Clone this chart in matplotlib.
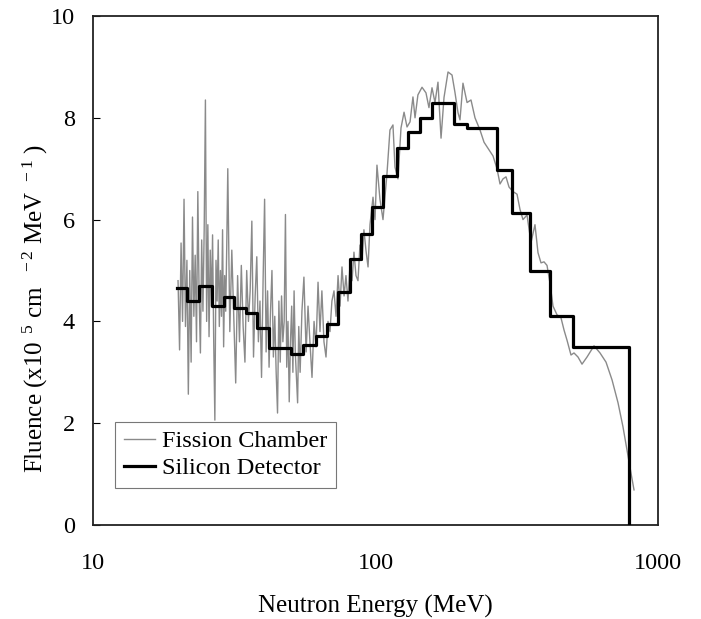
import matplotlib
matplotlib.use('Agg')
import matplotlib.pyplot as plt
import matplotlib.ticker as mticker

# ── Data ─────────────────────────────────────────────────────────
# Silicon detector: bin edges (MeV) and fluence per bin (x1e5 cm^-2 MeV^-1)
si_edges = [19.8, 21.5, 23.7, 26.4, 29.1, 31.6, 34.8, 38.1, 42.0, 50.2,
            55.4, 61.6, 67.3, 73.7, 81.2, 88.9, 97.2, 106.3, 119.2, 130.3,
            143.7, 158.5, 189.6, 210.9, 269.2, 304.2, 352.4, 414.7, 500.2, 789.5]
si_values = [4.66, 4.40, 4.70, 4.30, 4.48, 4.26, 4.16, 3.87, 3.48, 3.36,
             3.54, 3.71, 3.95, 4.58, 5.23, 5.72, 6.25, 6.86, 7.41, 7.72,
             8.00, 8.29, 7.88, 7.80, 6.97, 6.13, 4.99, 4.11, 3.50]

# Fission chamber: energy (MeV) and fluence
fc_energy = [
    20.00, 20.25, 20.50, 20.75, 21.00, 21.25, 21.50, 21.75, 22.00, 22.25,
    22.50, 22.75, 23.00, 23.25, 23.50, 23.75, 24.00, 24.25, 24.50, 24.75,
    25.00, 25.25, 25.50, 25.75, 26.00, 26.25, 26.50, 26.75, 27.00, 27.25,
    27.50, 27.75, 28.00, 28.25, 28.50, 28.75, 29.00, 29.25, 29.50, 29.75,
    30.00, 30.5, 31.0, 31.5, 32.0, 32.5, 33.0, 33.5, 34.0, 34.5,
    35.0, 35.5, 36.0, 36.5, 37.0, 37.5, 38.0, 38.5, 39.0, 39.5,
    40.0, 40.5, 41.0, 41.5, 42.0, 42.5, 43.0, 43.5, 44.0, 44.5,
    45.0, 45.5, 46.0, 46.5, 47.0, 47.5, 48.0, 48.5, 49.0, 49.5,
    50.0, 50.5, 51.0, 51.5, 52.0, 52.5, 53.0, 53.5, 54.1, 54.9,
    55.8, 56.8, 57.7, 58.6, 59.6, 60.6, 61.6, 62.6, 63.6, 64.6,
    65.7, 66.8, 67.9, 69.0, 70.1, 71.3, 72.5, 73.7, 74.9, 76.1,
    77.4, 78.6, 79.9, 81.2, 82.6, 83.9, 85.3, 86.7, 88.1, 89.6,
    91.0, 92.5, 94.1, 95.6, 98.0, 99.6, 101.2, 103.7, 106.3, 109.8,
    112.5, 115.3, 117.2, 120.1, 123.1, 126.2, 129.3, 132.5, 135.7, 138.0,
    141.3, 146.1, 150.9, 154.6, 158.5, 162.4, 166.4, 170.6, 174.8, 180.6,
    186.6, 191.1, 195.9, 199.1, 204.0, 210.9, 217.8, 225.0, 234.4, 242.2,
    250.2, 260.6, 269.2, 275.9, 282.7, 289.7, 296.9, 306.7, 316.9, 324.7,
    332.7, 343.8, 355.2, 366.9, 376.0, 385.3, 394.9, 404.7, 414.7, 424.9,
    439.0, 453.6, 464.9, 476.4, 492.0, 504.2, 521.0, 538.3, 560.7, 593.6,
    623.4, 654.6, 687.6, 722.0, 751.6, 776.6, 802.4, 822.4]
fc_values = [
    4.8, 3.44, 5.54, 4.0, 6.4, 3.9, 5.2, 2.57, 5.0, 3.2,
    6.05, 4.1, 5.3, 3.6, 6.55, 4.5, 3.38, 5.6, 4.2, 5.8,
    8.35, 4.0, 5.9, 3.7, 5.4, 4.3, 5.7, 3.6, 2.06, 5.2,
    4.4, 5.6, 3.9, 5.0, 4.1, 5.8, 3.5, 4.9, 4.2, 5.5,
    7.0, 3.8, 5.4, 4.1, 2.79, 4.9, 3.6, 5.1, 3.9, 3.2,
    5.0, 4.0, 4.6, 5.97, 3.3, 4.5, 5.27, 3.6, 4.4, 2.9,
    4.8, 6.4, 3.4, 4.6, 3.1, 4.2, 5.0, 3.3, 4.1, 3.0,
    2.2, 4.4, 3.2, 4.5, 3.6, 4.0, 6.1, 3.1, 4.0, 2.42,
    3.6, 4.3, 3.0, 4.6, 3.4, 2.9, 2.4, 3.9, 3.0, 4.2,
    4.87, 3.4, 4.3, 3.6, 2.9, 4.0, 3.5, 4.77, 3.8, 4.6,
    3.6, 3.3, 4.0, 3.8, 4.4, 4.6, 4.1, 4.9, 4.3, 5.07,
    4.5, 4.9, 4.4, 5.1, 4.8, 5.36, 4.9, 4.8, 5.5, 5.2,
    5.8, 5.4, 5.07, 5.9, 6.44, 6.0, 7.07, 6.4, 6.0, 6.9,
    7.76, 7.86, 7.03, 6.8, 7.8, 8.11, 7.82, 7.92, 8.41, 8.0,
    8.45, 8.6, 8.49, 8.2, 8.59, 8.3, 8.70, 7.6, 8.4, 8.9,
    8.84, 8.5, 8.1, 7.96, 8.68, 8.3, 8.35, 8.0, 7.76, 7.52,
    7.4, 7.25, 7.0, 6.7, 6.8, 6.84, 6.64, 6.55, 6.5, 6.2,
    6.0, 6.09, 5.55, 5.9, 5.35, 5.15, 5.17, 5.1, 4.75, 4.3,
    4.13, 4.07, 3.83, 3.63, 3.34, 3.38, 3.3, 3.16, 3.3, 3.52,
    3.38, 3.2, 2.85, 2.4, 1.93, 1.47, 1.02, 0.69]

# ── Style ────────────────────────────────────────────────────────
plt.rcParams['font.family'] = ['Liberation Serif', 'DejaVu Serif']
plt.rcParams['mathtext.fontset'] = 'custom'
plt.rcParams['mathtext.rm'] = 'Liberation Serif'
plt.rcParams['mathtext.it'] = 'Liberation Serif:italic'

fig = plt.figure(figsize=(7.01, 6.19), dpi=100)
ax = fig.add_axes([93/701, 1 - 525/619, 565/701, 509/619])

ax.plot(fc_energy, fc_values, color='#8a8a8a', linewidth=1.0,
        label='Fission Chamber', zorder=2)

# steps-post, closed with a drop to zero at the last edge
sx = si_edges + [si_edges[-1]]
sy = si_values + [si_values[-1], 0.0]
ax.plot(sx, sy, drawstyle='steps-post', color='black', linewidth=2.3,
        label='Silicon Detector', zorder=3)

ax.set_xscale('log')
ax.set_xlim(10, 1000)
ax.set_ylim(0, 10)
ax.xaxis.set_major_locator(mticker.FixedLocator([10, 100, 1000]))
ax.xaxis.set_major_formatter(mticker.FixedFormatter(['10', '100', '1000']))
ax.xaxis.set_minor_locator(mticker.NullLocator())
ax.yaxis.set_major_locator(mticker.MultipleLocator(2))

ax.tick_params(axis='x', length=0, pad=20, labelsize=17.5)
ax.tick_params(axis='y', direction='in', length=5, width=0.8,
               pad=13, labelsize=17.5, right=False)

for s in ax.spines.values():
    s.set_linewidth(1.3)
    s.set_color('#222222')

ax.set_xlabel('Neutron Energy (MeV)', fontsize=18, labelpad=15)
ax.set_ylabel(r'Fluence (x10$^{\ \ 5}$ cm$^{\ \ \ -2}$ MeV$^{\ \ -1}$ )',
              fontsize=18)
ax.yaxis.set_label_coords(-0.076, 0.425)

leg = ax.legend(loc='lower left', bbox_to_anchor=(0.039, 0.073),
                borderaxespad=0, fancybox=False, framealpha=1,
                edgecolor='#777777', fontsize=17.5, handlelength=1.3,
                handletextpad=0.3, borderpad=0.35, labelspacing=0.2)
leg.get_frame().set_linewidth(0.8)

plt.savefig('out.png', dpi=100)
